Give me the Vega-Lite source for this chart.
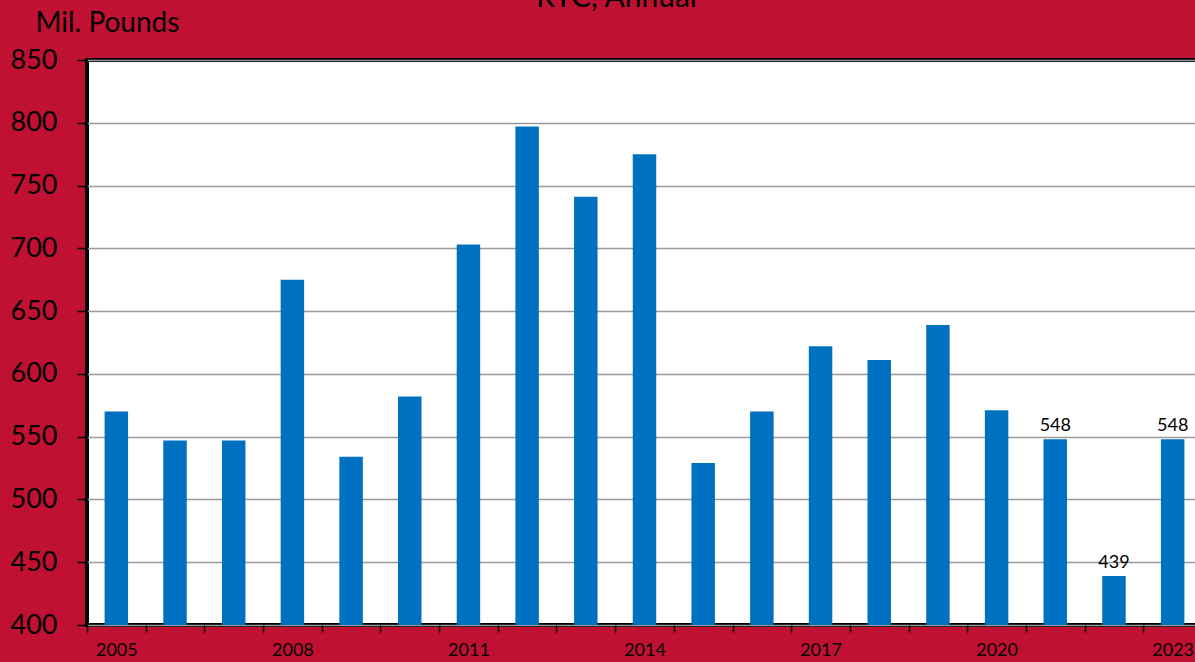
{
  "$schema": "https://vega.github.io/schema/vega-lite/v6.json",
  "autosize": {"type": "none"},
  "width": 1115,
  "height": 565,
  "padding": {"left": 87, "top": 60, "right": 0, "bottom": 37},
  "background": "#C01133",
  "title": {
    "text": "RTC, Annual",
    "font": "Lato",
    "fontSize": 30,
    "fontWeight": "normal",
    "color": "#000000",
    "anchor": "middle",
    "baseline": "alphabetic",
    "dx": -28,
    "offset": -28
  },
  "data": {
    "values": [
      {"year": 2005, "pounds": 570},
      {"year": 2006, "pounds": 547},
      {"year": 2007, "pounds": 547},
      {"year": 2008, "pounds": 675},
      {"year": 2009, "pounds": 534},
      {"year": 2010, "pounds": 582},
      {"year": 2011, "pounds": 703},
      {"year": 2012, "pounds": 797},
      {"year": 2013, "pounds": 741},
      {"year": 2014, "pounds": 775},
      {"year": 2015, "pounds": 529},
      {"year": 2016, "pounds": 570},
      {"year": 2017, "pounds": 622},
      {"year": 2018, "pounds": 611},
      {"year": 2019, "pounds": 639},
      {"year": 2020, "pounds": 571},
      {"year": 2021, "pounds": 548},
      {"year": 2022, "pounds": 439},
      {"year": 2023, "pounds": 548}
    ]
  },
  "encoding": {
    "x": {
      "field": "year",
      "type": "ordinal",
      "scale": {"paddingInner": 0.6, "paddingOuter": 0.3},
      "axis": {
        "title": null,
        "tickOffset": -29.34,
        "labelOffset": 29.34,
        "labelAngle": 0,
        "labelExpr": "datum.value % 3 == 1 ? datum.value : ''",
        "labelFont": "Lato",
        "labelFontSize": 18,
        "labelColor": "#000000",
        "labelPadding": 9,
        "tickSize": 7,
        "tickColor": "#000000",
        "tickWidth": 1.5,
        "domain": false,
        "grid": false
      }
    },
    "y": {
      "field": "pounds",
      "type": "quantitative",
      "scale": {"domain": [400, 850], "nice": false, "zero": false},
      "axis": {
        "title": "Mil. Pounds",
        "titleAngle": 0,
        "titleAlign": "left",
        "titleBaseline": "alphabetic",
        "titleX": -52,
        "titleY": -29,
        "titleFont": "Lato",
        "titleFontSize": 28,
        "titleFontWeight": "normal",
        "titleColor": "#000000",
        "values": [400, 450, 500, 550, 600, 650, 700, 750, 800, 850],
        "labelFont": "Lato",
        "labelFontSize": 27,
        "labelColor": "#000000",
        "labelPadding": 20,
        "tickSize": 10,
        "tickColor": "#000000",
        "tickWidth": 1.5,
        "domain": false,
        "grid": true,
        "gridColor": "#999999",
        "gridWidth": 1.5
      }
    }
  },
  "layer": [
    {
      "mark": {"type": "bar", "color": "#0070C0"},
      "encoding": {"y2": {"datum": 400}}
    },
    {
      "transform": [{"filter": "datum.year >= 2021"}],
      "mark": {
        "type": "text",
        "font": "Lato",
        "fontSize": 18,
        "color": "#000000",
        "baseline": "alphabetic",
        "dy": -8
      },
      "encoding": {"text": {"field": "pounds", "type": "quantitative"}}
    }
  ],
  "config": {
    "view": {"fill": "#FFFFFF", "stroke": "#000000", "strokeWidth": 4}
  }
}
